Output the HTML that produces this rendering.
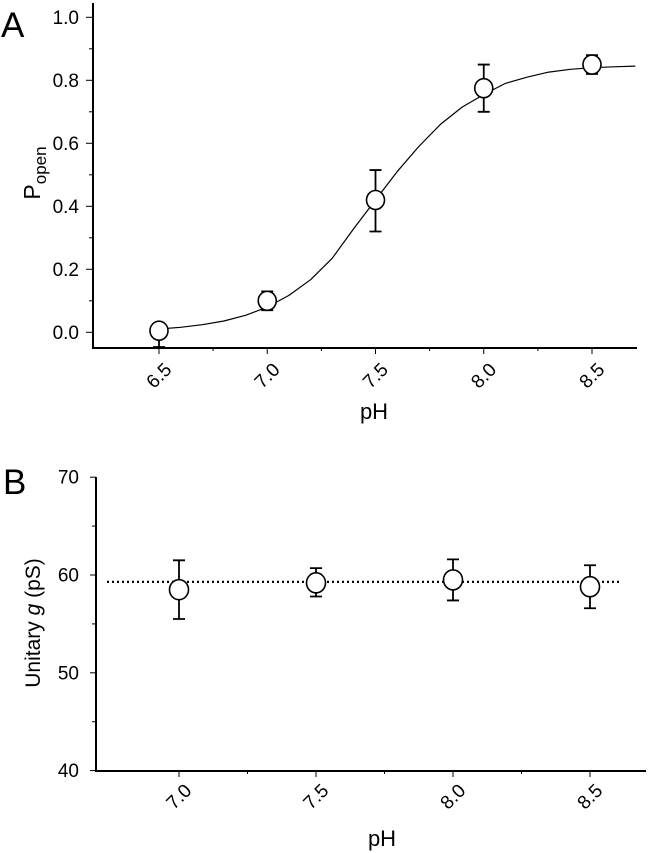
<!DOCTYPE html>
<html><head><meta charset="utf-8"><style>
html,body{margin:0;padding:0;background:#fff;}
svg{display:block;font-family:"Liberation Sans",Arial,sans-serif;}
</style></head><body>
<svg id="fig" width="648" height="853" viewBox="0 0 648 853"></svg>
<script>
// Panel A data
const phA = [6.5, 7.0, 7.5, 8.0, 8.5];
const popen = [0.005, 0.10, 0.42, 0.775, 0.85];
const popenLo = [-0.05, 0.07, 0.32, 0.70, 0.82];
const popenHi = [0.005, 0.13, 0.515, 0.85, 0.88];
const fitX = [6.5,6.6,6.7,6.8,6.9,7.0,7.1,7.2,7.3,7.4,7.5,7.6,7.7,7.8,7.9,8.0,8.1,8.2,8.3,8.4,8.5,8.6,8.7];
const fitY = [0.0105,0.016,0.024,0.036,0.054,0.080,0.117,0.167,0.235,0.33,0.42,0.51,0.59,0.66,0.715,0.755,0.79,0.81,0.826,0.835,0.84,0.843,0.845];
const xTicksA = ["6.5","7.0","7.5","8.0","8.5"];
const yTicksA = ["0.0","0.2","0.4","0.6","0.8","1.0"];
// Panel B data
const phB = [7.0, 7.5, 8.0, 8.5];
const cond = [58.5, 59.2, 59.5, 58.8];
const condLo = [55.5, 57.8, 57.4, 56.6];
const condHi = [61.5, 60.7, 61.6, 61.0];
const meanCond = [59.3];
const xTicksB = ["7.0","7.5","8.0","8.5"];
const yTicksB = ["40","50","60","70"];

const svg = document.getElementById('fig');
const NS = 'http://www.w3.org/2000/svg';
function mk(tag, attrs, parent, text){
  const e = document.createElementNS(NS, tag);
  for (const k in attrs) e.setAttribute(k, attrs[k]);
  if (text !== undefined) e.textContent = text;
  (parent || svg).appendChild(e);
  return e;
}
const FS = 19;
// scales
const xA = v => 159 + (v - 6.5) * 216.5;
const yA = v => 332.3 - v * 315;
const xB = v => 179 + (v - 7.0) * 274;
const yB = v => 575 - (v - 60) * 9.78;

// ---------- Panel A ----------
const gA = mk('g', {});


let t = mk('text', {x: 1, y: 37, 'font-size': 35}, gA, 'A');


let ax = mk('path', {d: 'M93 3 V348 H637', fill: 'none', stroke: '#000', 'stroke-width': 2}, gA);


for (let i = 0; i <= 10; i++) {
  const v = i / 10, y = yA(v);
  const major = i % 2 === 0;
  mk('line', {x1: major ? 86 : 89, x2: 93, y1: y, y2: y, stroke: '#000', 'stroke-width': 1}, gA);
}
yTicksA.forEach(s => {
  const e = mk('text', {x: 79, y: yA(parseFloat(s)) + 6.5, 'font-size': FS, 'text-anchor': 'end'}, gA, s);
  
  
});
for (let v = 6.5; v <= 8.51; v += 0.25) {
  const x = xA(v);
  const major = Math.abs(v * 2 - Math.round(v * 2)) < 1e-6;
  mk('line', {x1: x, x2: x, y1: 348, y2: major ? 354 : 351, stroke: '#000', 'stroke-width': 1}, gA);
}
xTicksA.forEach(s => {
  const x = xA(parseFloat(s)) + 3, y = 360;
  const e = mk('text', {x: x, y: y, 'font-size': FS, 'text-anchor': 'end', transform: `rotate(-45 ${x} ${y})`, dy: '0.8em'}, gA, s);
  
  
});
t = mk('text', {x: 374, y: 419, 'font-size': 22, 'text-anchor': 'middle'}, gA, 'pH');


t = mk('text', {transform: 'translate(40 173) rotate(-90)', 'font-size': 23, 'text-anchor': 'middle'}, gA);


mk('tspan', {}, t, 'P');
mk('tspan', {'font-size': 17, dy: 6}, t, 'open');
// fit curve
let d = fitX.map((v, i) => (i ? 'L' : 'M') + xA(v).toFixed(1) + ' ' + yA(fitY[i]).toFixed(1)).join(' ');
let c = mk('path', {d: d, fill: 'none', stroke: '#000', 'stroke-width': 1.2, 'stroke-linejoin': 'round'}, gA);


phA.forEach((p, i) => {
  const x = xA(p);
  const hi = yA(popenHi[i]);
  const lo = Math.min(yA(popenLo[i]), 347);
  const eb = mk('path', {d: `M${x} ${lo} V${hi} M${x-6} ${hi} H${x+6} M${x-6} ${lo} H${x+6}`, stroke: '#000', 'stroke-width': 1.8, fill: 'none'}, gA);
  
  
  const pt = mk('ellipse', {cx: x, cy: yA(popen[i]), rx: 9, ry: 9.5, fill: '#fff', stroke: '#000', 'stroke-width': 1.6}, gA);
  
  
});

// ---------- Panel B ----------
const gB = mk('g', {});


t = mk('text', {x: 3, y: 494, 'font-size': 35}, gB, 'B');


ax = mk('path', {d: 'M96 477 V771 H646', fill: 'none', stroke: '#000', 'stroke-width': 2}, gB);


for (let v = 40; v <= 70; v += 5) {
  const y = yB(v);
  mk('line', {x1: v % 10 === 0 ? 90 : 92, x2: 96, y1: y, y2: y, stroke: '#000', 'stroke-width': 1}, gB);
}
yTicksB.forEach(s => {
  const e = mk('text', {x: 79, y: yB(parseFloat(s)) + 6.5, 'font-size': FS, 'text-anchor': 'end'}, gB, s);
  
  
});
for (let v = 7.0; v <= 8.51; v += 0.25) {
  const x = xB(v);
  const major = Math.abs(v * 2 - Math.round(v * 2)) < 1e-6;
  mk('line', {x1: x, x2: x, y1: 771, y2: major ? 777 : 774, stroke: '#000', 'stroke-width': 1}, gB);
}
xTicksB.forEach(s => {
  const x = xB(parseFloat(s)) + 3, y = 781;
  const e = mk('text', {x: x, y: y, 'font-size': FS, 'text-anchor': 'end', transform: `rotate(-45 ${x} ${y})`, dy: '0.8em'}, gB, s);
  
  
});
t = mk('text', {x: 382, y: 846, 'font-size': 22, 'text-anchor': 'middle'}, gB, 'pH');


t = mk('text', {transform: 'translate(40 623) rotate(-90)', 'font-size': 21, 'text-anchor': 'middle'}, gB);


mk('tspan', {}, t, 'Unitary ');
mk('tspan', {'font-style': 'italic'}, t, 'g');
mk('tspan', {}, t, ' (pS)');
const ml = mk('line', {x1: 107, x2: 622, y1: yB(meanCond[0]), y2: yB(meanCond[0]), stroke: '#000', 'stroke-width': 2.2, 'stroke-dasharray': '2 3'}, gB);


phB.forEach((p, i) => {
  const x = xB(p), lo = yB(condLo[i]), hi = yB(condHi[i]);
  const eb = mk('path', {d: `M${x} ${lo} V${hi} M${x-6} ${hi} H${x+6} M${x-6} ${lo} H${x+6}`, stroke: '#000', 'stroke-width': 1.8, fill: 'none'}, gB);
  
  
  const pt = mk('ellipse', {cx: x, cy: yB(cond[i]), rx: 9.5, ry: 10, fill: '#fff', stroke: '#000', 'stroke-width': 1.6}, gB);
  
  
});
</script>
</body></html>
